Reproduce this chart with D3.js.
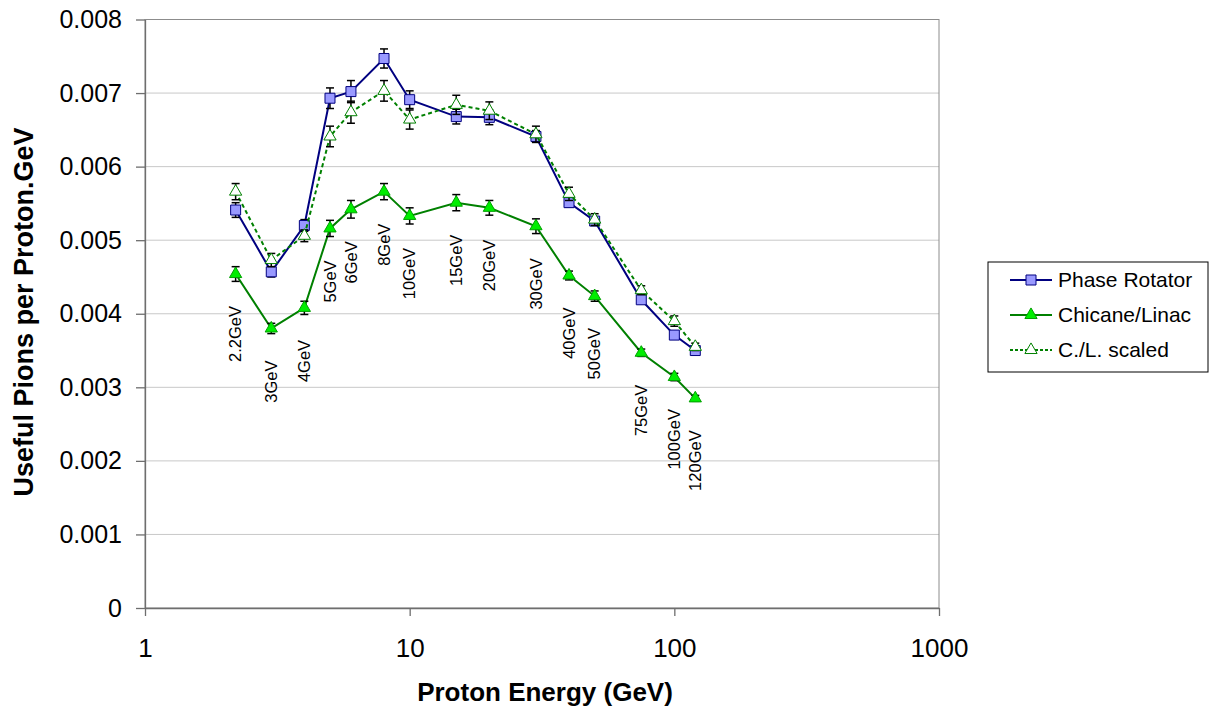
<!DOCTYPE html>
<html>
<head>
<meta charset="utf-8">
<script src="https://cdn.jsdelivr.net/npm/d3@7"></script>
<style>
    body { margin: 0; background: #fff; }
    text { font-family: "Liberation Sans", Arial, sans-serif; }
</style>
</head>
<body>
<div id="chart"></div>
<script>
// proton energies (GeV) and the labels printed under each point
let energies = [2.2, 3, 4, 5, 6, 8, 10, 15, 20, 30, 40, 50, 75, 100, 120];
let energyLabels = ["2.2GeV", "3GeV", "4GeV", "5GeV", "6GeV", "8GeV", "10GeV", "15GeV",
    "20GeV", "30GeV", "40GeV", "50GeV", "75GeV", "100GeV", "120GeV"];

let phaseRotator = [0.00541, 0.00457, 0.00520, 0.00693, 0.00702, 0.00747, 0.00691, 0.00668,
    0.00667, 0.00641, 0.00551, 0.00526, 0.00419, 0.00371, 0.00350];
let phaseRotatorErr = [0.00010, 0.00007, 0.00008, 0.00014, 0.00015, 0.00013, 0.00012, 0.00010,
    0.00010, 0.00008, 0.00006, 0.00005, 0.00004, 0.00004, 0.00003];

let chicaneLinac = [0.00454, 0.00380, 0.00408, 0.00516, 0.00542, 0.00566, 0.00533, 0.00551,
    0.00544, 0.00519, 0.00452, 0.00424, 0.00347, 0.00314, 0.00285];
let chicaneLinacErr = [0.00010, 0.00007, 0.00009, 0.00011, 0.00012, 0.00011, 0.00011, 0.00011,
    0.00010, 0.00010, 0.00006, 0.00007, 0.00005, 0.00005, 0.00004];

let clScaled = [0.00566, 0.00473, 0.00506, 0.00641, 0.00674, 0.00703, 0.00664, 0.00684,
    0.00676, 0.00644, 0.00563, 0.00528, 0.00432, 0.00390, 0.00355];
let clScaledErr = [0.00011, 0.00009, 0.00008, 0.00014, 0.00015, 0.00014, 0.00013, 0.00013,
    0.00012, 0.00011, 0.00009, 0.00008, 0.00006, 0.00007, 0.00005];

let xTicks = [1, 10, 100, 1000];
let yTicks = [0, 0.001, 0.002, 0.003, 0.004, 0.005, 0.006, 0.007, 0.008];

let series = [
    {name: "Phase Rotator", values: phaseRotator, err: phaseRotatorErr, line: "#000080",
        dash: null, marker: "square", fill: "#9999ff", stroke: "#000080"},
    {name: "Chicane/Linac", values: chicaneLinac, err: chicaneLinacErr, line: "#008000",
        dash: null, marker: "triangle", fill: "#00ee00", stroke: "#00a000"},
    {name: "C./L. scaled", values: clScaled, err: clScaledErr, line: "#008000",
        dash: "4,3", marker: "triangle", fill: "#ffffff", stroke: "#008000"}
];

let svg = d3.select("#chart")
    .append("svg")
    .attr("width", 1214)
    .attr("height", 711);

let margin = {left: 145, right: 939, top: 19.5, bottom: 608};

let x = d3.scaleLog().domain([1, 1000]).range([margin.left, margin.right]);
let y = d3.scaleLinear().domain([0, 0.008]).range([margin.bottom, margin.top]);

// gridlines
svg.append("g")
    .selectAll("line")
    .data(yTicks.filter(d => d > 0))
    .enter().append("line")
    .attr("x1", margin.left).attr("x2", margin.right)
    .attr("y1", d => y(d)).attr("y2", d => y(d))
    .attr("stroke", "#c8c8c8")
    .attr("stroke-width", 1);

// plot frame
svg.append("rect")
    .attr("x", margin.left).attr("y", margin.top)
    .attr("width", margin.right - margin.left).attr("height", margin.bottom - margin.top)
    .attr("fill", "none")
    .attr("stroke", "#8c8c8c")
    .attr("stroke-width", 1);

let yAxis = svg.append("g")
    .attr("transform", "translate(" + margin.left + ",0)")
    .call(d3.axisLeft(y).tickValues(yTicks).tickSize(9).tickSizeOuter(0).tickPadding(14)
        .tickFormat(d => d === 0 ? "0" : d3.format(".3f")(d)));
yAxis.selectAll("text").attr("font-size", 25).attr("fill", "#000");

let xAxis = svg.append("g")
    .attr("transform", "translate(0," + margin.bottom + ")")
    .call(d3.axisBottom(x).tickValues(xTicks).tickSize(8).tickSizeOuter(0).tickPadding(23)
        .tickFormat(d3.format("d")));
xAxis.selectAll("text").attr("font-size", 26).attr("fill", "#000");

svg.selectAll(".domain, .tick line").attr("stroke", "#6e6e6e").attr("stroke-width", 1.3);
svg.selectAll(".tick text").style("font-family", "'Liberation Sans', Arial, sans-serif");

// axis titles
svg.append("text")
    .attr("x", 545).attr("y", 701)
    .attr("text-anchor", "middle")
    .attr("font-size", 26).attr("font-weight", "bold")
    .text("Proton Energy (GeV)");

svg.append("text")
    .attr("transform", "translate(33,312) rotate(-90)")
    .attr("text-anchor", "middle")
    .attr("font-size", 27).attr("font-weight", "bold")
    .text("Useful Pions per Proton.GeV");

let markerPath = (type, size) => type === "square"
    ? d3.symbol().type(d3.symbolSquare).size(size * size)()
    : d3.symbol().type(d3.symbolTriangle).size(size * size * 0.45)();

let lineGen = d3.line()
    .x(d => x(d[0]))
    .y(d => y(d[1]));

series.forEach(s => {
    let pts = energies.map((e, i) => [e, s.values[i], s.err[i]]);
    let g = svg.append("g");

    g.append("path")
        .datum(pts)
        .attr("d", lineGen)
        .attr("fill", "none")
        .attr("stroke", s.line)
        .attr("stroke-width", 2)
        .attr("stroke-dasharray", s.dash);

    // error bars
    let eb = g.selectAll(".err")
        .data(pts)
        .enter().append("g")
        .attr("stroke", "#000")
        .attr("stroke-width", 1.5);
    eb.append("line")
        .attr("x1", d => x(d[0])).attr("x2", d => x(d[0]))
        .attr("y1", d => y(d[1] - d[2])).attr("y2", d => y(d[1] + d[2]));
    eb.append("line")
        .attr("x1", d => x(d[0]) - 4).attr("x2", d => x(d[0]) + 4)
        .attr("y1", d => y(d[1] + d[2])).attr("y2", d => y(d[1] + d[2]));
    eb.append("line")
        .attr("x1", d => x(d[0]) - 4).attr("x2", d => x(d[0]) + 4)
        .attr("y1", d => y(d[1] - d[2])).attr("y2", d => y(d[1] - d[2]));

    g.selectAll(".mk")
        .data(pts)
        .enter().append("path")
        .attr("d", markerPath(s.marker, s.marker === "square" ? 10 : 12))
        .attr("transform", d => "translate(" + x(d[0]) + "," + y(d[1]) + ")")
        .attr("fill", s.fill)
        .attr("stroke", s.stroke)
        .attr("stroke-width", 1);
});

// energy labels, under the Chicane/Linac points
svg.append("g")
    .selectAll("text")
    .data(energies)
    .enter().append("text")
    .attr("transform", (d, i) => "translate(" + x(d) + "," + (y(chicaneLinac[i]) + 32) + ") rotate(-90)")
    .attr("text-anchor", "end")
    .attr("dy", "0.35em")
    .attr("font-size", 16.5)
    .text((d, i) => energyLabels[i]);

// legend
let legend = svg.append("g");
legend.append("rect")
    .attr("x", 988).attr("y", 262)
    .attr("width", 220).attr("height", 110)
    .attr("fill", "#fff")
    .attr("stroke", "#000")
    .attr("stroke-width", 1);

series.forEach((s, i) => {
    let ly = 280 + i * 35;
    legend.append("line")
        .attr("x1", 1010).attr("x2", 1052)
        .attr("y1", ly).attr("y2", ly)
        .attr("stroke", s.line)
        .attr("stroke-width", 2)
        .attr("stroke-dasharray", s.dash ? "3,2" : null);
    legend.append("path")
        .attr("d", markerPath(s.marker, s.marker === "square" ? 10 : 12))
        .attr("transform", "translate(1031," + ly + ")")
        .attr("fill", s.fill)
        .attr("stroke", s.stroke)
        .attr("stroke-width", 1);
    legend.append("text")
        .attr("x", 1058).attr("y", ly)
        .attr("dy", "0.35em")
        .attr("font-size", 21)
        .text(s.name);
});
</script>
</body>
</html>
